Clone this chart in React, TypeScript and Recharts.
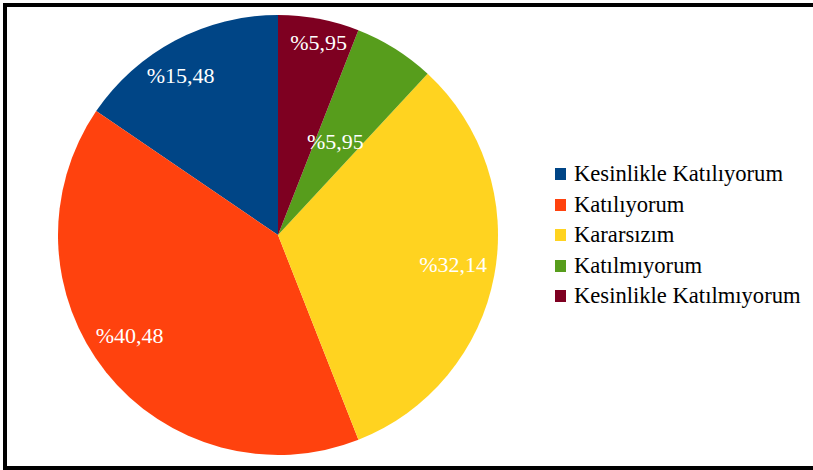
import React from "react";
import { PieChart, Pie, Cell, Legend } from "recharts";

const categories = [
  "Kesinlikle Katılıyorum",
  "Katılıyorum",
  "Kararsızım",
  "Katılmıyorum",
  "Kesinlikle Katılmıyorum",
];
const values = [15.48, 40.48, 32.14, 5.95, 5.95];
const labels = ["%15,48", "%40,48", "%32,14", "%5,95", "%5,95"];
const colors = ["#004586", "#ff420e", "#ffd320", "#579d1c", "#7e0021"];

const data = categories.map((name, i) => ({ name, value: values[i], label: labels[i] }));

// layout tweaks for label placement (radius fraction, angle shift in degrees)
const labelRadiusFrac = [0.85, 0.815, 0.807, 0.5, 0.895];
const labelAngleShift = [3.5, -4.4, 1.1, 0.7, -1.2];

const RAD = Math.PI / 180;
const FONT = "'Liberation Serif', 'Times New Roman', serif";

const renderLabel = (props: any) => {
  const { cx, cy, midAngle, outerRadius, index } = props;
  const r = outerRadius * labelRadiusFrac[index];
  const a = (midAngle + labelAngleShift[index]) * RAD;
  const x = cx + r * Math.cos(a);
  const y = cy - r * Math.sin(a);
  return (
    <text
      x={x}
      y={y}
      fill="#ffffff"
      textAnchor="middle"
      dominantBaseline="central"
      style={{ fontFamily: FONT, fontSize: 22 }}
    >
      {labels[index]}
    </text>
  );
};

const renderLegend = () => (
  <div style={{ fontFamily: FONT, fontSize: 22.6, color: "#000" }}>
    {categories.map((c, i) => (
      <div
        key={c}
        style={{ display: "flex", alignItems: "center", height: 30.5, whiteSpace: "nowrap" }}
      >
        <span
          style={{
            display: "inline-block",
            width: 11,
            height: 12,
            background: colors[i],
            marginRight: 8,
          }}
        />
        <span>{c}</span>
      </div>
    ))}
  </div>
);

export default function App() {
  return (
    <div
      style={{
        position: "absolute",
        left: 0,
        top: 0,
        width: 813,
        height: 470,
        overflow: "hidden",
        background: "#fff",
      }}
    >
      <div
        style={{
          position: "absolute",
          left: 3,
          top: 3,
          width: 830,
          height: 459,
          border: "4px solid #000",
          borderRight: "none",
          boxSizing: "content-box",
        }}
      />
      <div style={{ position: "absolute", left: 0, top: 0 }}>
        <PieChart width={813} height={470} margin={{ top: 0, right: 0, bottom: 0, left: 0 }}>
          <Pie
            data={data}
            dataKey="value"
            nameKey="name"
            cx={278}
            cy={235}
            outerRadius={220}
            startAngle={90}
            endAngle={450}
            stroke="none"
            isAnimationActive={false}
            label={renderLabel}
            labelLine={false}
          >
            {data.map((d, i) => (
              <Cell key={d.name} fill={colors[i]} />
            ))}
          </Pie>
          <Legend
            content={renderLegend}
            wrapperStyle={{ position: "absolute", left: 555, top: 159, width: 260 }}
          />
        </PieChart>
      </div>
    </div>
  );
}
